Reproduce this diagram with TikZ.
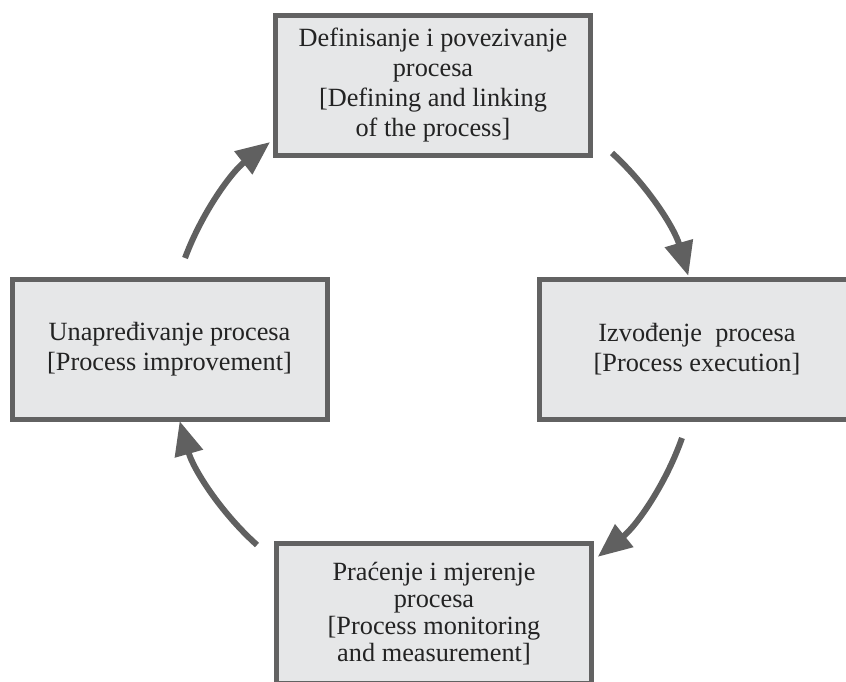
\documentclass[tikz,border=0pt]{standalone}
\usepackage{fontspec}
\setmainfont{Liberation Serif}
\usetikzlibrary{arrows.meta}
\definecolor{boxfill}{RGB}{230,231,232}
\definecolor{boxline}{RGB}{98,98,98}
\definecolor{arrcol}{RGB}{96,96,96}
\definecolor{txt}{RGB}{35,35,35}
\tikzset{
  procbox/.style={rectangle, draw=boxline, fill=boxfill, line width=5pt,
    minimum width=315pt, minimum height=140pt, inner sep=0pt, align=center,
    text=txt, font=\fontsize{26.3pt}{30pt}\selectfont},
  tightlines/.style={font=\fontsize{26.3pt}{27pt}\selectfont},
  cyc/.style={draw=arrcol, line width=6pt, -{Triangle[length=34pt,width=28pt]}}
}
\begin{document}
\begin{tikzpicture}[x=1pt,y=-1pt]
\useasboundingbox (0,0) rectangle (846,681);
\begin{scope}
\clip (0,0) rectangle (846,681);
\node[procbox] (top) at (433,85) {Definisanje i povezivanje\\procesa\\{[Defining and linking}\\of the process]};
\node[procbox] (right) at (697,349.5) {Izvođenje\ \ procesa\\{[Process execution]}};
\node[procbox, tightlines] (bottom) at (434,613.5) {Praćenje i mjerenje\\procesa\\{[Process monitoring}\\and measurement]};
\node[procbox] (left) at (169.5,349.5) {Unapređivanje procesa\\{[Process improvement]}};
\coordinate (s1) at (185,258);
\coordinate (s2) at (612,153);
\coordinate (s3) at (682,438);
\coordinate (s4) at (257,545);
\draw[cyc] (s1) arc[start angle=159.57, end angle=127.91, radius=263.6pt];
\draw[cyc] (s2) arc[start angle=47.58, end angle=16.12, radius=266.6pt];
\draw[cyc] (s3) arc[start angle=-19.39, end angle=-51.27, radius=265.2pt];
\draw[cyc] (s4) arc[start angle=228.09, end angle=195.83, radius=263pt];
\end{scope}
\end{tikzpicture}
\end{document}
